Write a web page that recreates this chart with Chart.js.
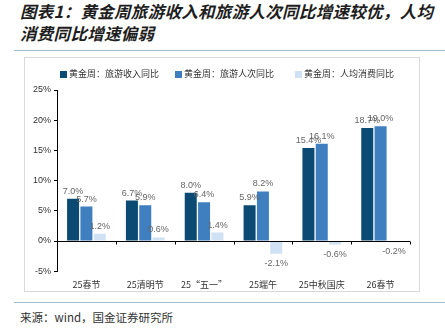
<!DOCTYPE html>
<html>
<head>
<meta charset="utf-8">
<script src="https://cdn.jsdelivr.net/npm/chart.js@4.4.1/dist/chart.umd.min.js"></script>
<style>
  html, body { margin: 0; padding: 0; background: #fff; }
  body { width: 445px; height: 331px; position: relative; overflow: hidden; font-family: "Noto Sans CJK SC", sans-serif; }
  .title { position: absolute; left: 20px; top: 0px; width: 425px; font-size: 16.5px; line-height: 22px; font-weight: bold; font-style: italic; color: #1e1e1e; letter-spacing: 0.3px; }
  .rule { position: absolute; left: 14px; width: 431px; height: 1px; background: #9dbdcf; }
  .box { position: absolute; left: 24px; top: 57px; width: 396px; height: 235px; border: 1px solid #d9d9d9; box-sizing: border-box; }
  .box canvas { position: absolute; left: 0; top: 0; }
  .legend { position: absolute; top: 10px; left: 0; width: 396px; height: 12px; font-size: 9px; line-height: 12px; color: #333; }
  .legend span { position: absolute; top: 0; white-space: nowrap; }
  .legend i { display: inline-block; width: 7px; height: 7px; margin-right: 2px; vertical-align: -0.5px; }
  .source { position: absolute; left: 20px; top: 309px; font-size: 11.5px; color: #333; }
</style>
</head>
<body>
<div class="title">图表1：黄金周旅游收入和旅游人次同比增速较优，人均<br>消费同比增速偏弱</div>
<div class="rule" style="top:50px"></div>
<div class="box">
  <canvas id="chart" width="396" height="240"></canvas>
  <div class="legend" id="legend"></div>
</div>
<div class="rule" style="top:302px"></div>
<div class="source">来源：wind，国金证券研究所</div>

<script>
// 黄金周同比增速（%）
const holidays = ["25春节", "25清明节", "25\u201c五一\u201d", "25端午", "25中秋国庆", "26春节"];
const revenueYoY = [7.0, 6.7, 8.0, 5.9, 15.4, 18.7];
const tripsYoY = [5.7, 5.9, 6.4, 8.2, 16.1, 19.0];
const perCapitaYoY = [1.2, 0.6, 1.4, -2.1, -0.6, -0.2];
const seriesNames = ["黄金周：旅游收入同比", "黄金周：旅游人次同比", "黄金周：人均消费同比"];
const yTicks = [-5, 0, 5, 10, 15, 20, 25];

const colors = ["#0b4a72", "#3f7fc0", "#cfe1f3"];
const legendLeft = [35, 150, 270];

// value labels above / below each bar
const valueLabels = {
  id: "valueLabels",
  afterDatasetsDraw(chart) {
    const ctx = chart.ctx;
    ctx.save();
    ctx.font = "9px Arial, 'Liberation Sans'";
    ctx.fillStyle = "#666";
    ctx.textAlign = "center";
    chart.data.datasets.forEach((ds, i) => {
      chart.getDatasetMeta(i).data.forEach((bar, j) => {
        const v = ds.data[j];
        const txt = v.toFixed(1) + "%";
        if (v >= 0) {
          ctx.textBaseline = "bottom";
          ctx.fillText(txt, bar.x, bar.y - 3);
        } else {
          ctx.textBaseline = "top";
          ctx.fillText(txt, bar.x, bar.y + 5);
        }
      });
    });
    ctx.restore();
  }
};

// zero line with small ticks between categories
const zeroAxis = {
  id: "zeroAxis",
  afterDatasetsDraw(chart) {
    const ctx = chart.ctx;
    const y0 = Math.round(chart.scales.y.getPixelForValue(0)) + 0.5;
    const { left, right } = chart.chartArea;
    const step = (right - left) / holidays.length;
    ctx.save();
    ctx.strokeStyle = "#000";
    ctx.lineWidth = 1;
    ctx.beginPath();
    ctx.moveTo(left, y0);
    ctx.lineTo(right, y0);
    for (let k = 1; k <= holidays.length; k++) {
      const x = Math.round(left + step * k) + 0.5;
      ctx.moveTo(x, y0);
      ctx.lineTo(x, y0 + 3);
    }
    ctx.stroke();
    ctx.restore();
  }
};

const chart = new Chart(document.getElementById("chart"), {
  type: "bar",
  data: {
    labels: holidays,
    datasets: [revenueYoY, tripsYoY, perCapitaYoY].map((d, i) => ({
      label: seriesNames[i],
      data: d,
      backgroundColor: colors[i],
      categoryPercentage: 0.68,
      barPercentage: 0.9
    }))
  },
  options: {
    responsive: false,
    animation: false,
    layout: { padding: { top: 32, right: 11, left: 0, bottom: 0 } },
    plugins: {
      legend: { display: false },
      tooltip: { enabled: false }
    },
    scales: {
      x: {
        grid: { display: false, drawTicks: false },
        border: { display: false },
        ticks: {
          color: "#333",
          padding: 8,
          maxRotation: 0,
          font: { size: 9, family: "'Noto Sans CJK SC'" }
        }
      },
      y: {
        min: -5,
        max: 25,
        afterBuildTicks(s) { s.ticks = yTicks.map(v => ({ value: v })); },
        afterFit(s) { s.width = 32; },
        grid: { drawOnChartArea: false, drawTicks: true, tickLength: 3, color: "#000" },
        border: { display: true, color: "#000" },
        ticks: {
          color: "#333",
          padding: 3,
          font: { size: 9, family: "Arial, 'Liberation Sans'" },
          callback: v => v + "%"
        }
      }
    }
  },
  plugins: [valueLabels, zeroAxis]
});

// legend built from the chart's own datasets
document.getElementById("legend").innerHTML = chart.data.datasets.map((ds, i) =>
  `<span style="left:${legendLeft[i]}px"><i style="background:${ds.backgroundColor}"></i>${ds.label}</span>`
).join("");
</script>
</body>
</html>
